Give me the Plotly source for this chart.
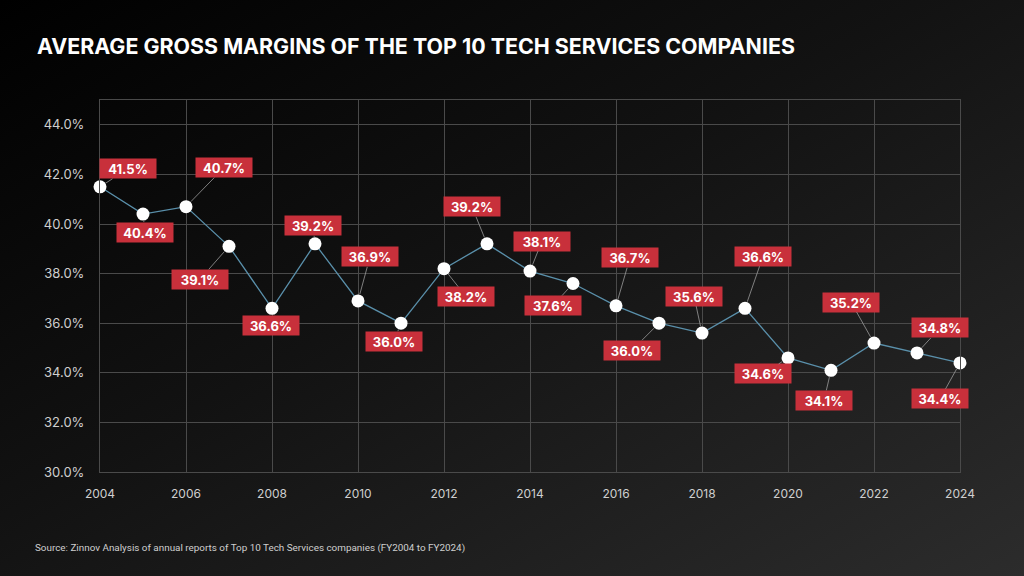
import base64
import plotly.graph_objects as go

years = list(range(2004, 2025))
margins = [41.5, 40.4, 40.7, 39.1, 36.6, 39.2, 36.9, 36.0, 38.2, 39.2, 38.1,
           37.6, 36.7, 36.0, 35.6, 36.6, 34.6, 34.1, 35.2, 34.8, 34.4]
y_ticks = [30, 32, 34, 36, 38, 40, 42, 44]
x_ticks = list(range(2004, 2025, 2))

# label placement offsets in pixels (layout only)
label_offsets = [(28, -18), (2, 18), (38, -39), (-29, 33), (-1, 17), (-2, -18),
                 (12, -44), (-7, 18), (22, 28), (-15, -37), (12, -30), (-20, 22),
                 (14, -48), (-27, 27), (-8, -37), (18, -52), (-25, 16), (-7, 30),
                 (-23, -41), (23, -25), (-20, 36)]

W, H = 1024, 576
L, R, T, B = 100, 64, 100, 104
pw, ph = W - L - R, H - T - B

svg = f'''<svg xmlns="http://www.w3.org/2000/svg" width="{W}" height="{H}">
<defs><linearGradient id="g" x1="0" y1="0" x2="1" y2="1">
<stop offset="0" stop-color="#000000"/><stop offset="0.45" stop-color="#121212"/>
<stop offset="1" stop-color="#2c2c2c"/></linearGradient></defs>
<rect width="{W}" height="{H}" fill="url(#g)"/></svg>'''
bg = "data:image/svg+xml;base64," + base64.b64encode(svg.encode()).decode()

fig = go.Figure()
fig.add_trace(go.Scatter(
    x=years, y=margins, mode="lines+markers",
    line=dict(color="#5a90ab", width=1.3),
    marker=dict(size=13, color="white", line=dict(width=0)),
    cliponaxis=False, hoverinfo="skip", showlegend=False,
))

for yr, v, (ax, ay) in zip(years, margins, label_offsets):
    fig.add_annotation(
        x=yr, y=v, ax=ax, ay=ay, text=f"<b>{v:.1f}%</b>",
        showarrow=True, arrowhead=0, arrowwidth=0.8, arrowcolor="#9a9a9a",
        standoff=7, bgcolor="#c8303b", borderpad=2, width=52, height=15,
        font=dict(family="Inter, Roboto, sans-serif", size=13, color="white"),
    )

grid = "#4a4a4a"
fig.update_layout(
    width=W, height=H,
    margin=dict(l=L, r=R, t=T, b=B),
    paper_bgcolor="#111111", plot_bgcolor="rgba(0,0,0,0)",
    images=[dict(source=bg, xref="paper", yref="paper",
                 x=-L / pw, y=1 + T / ph, sizex=W / pw, sizey=H / ph,
                 xanchor="left", yanchor="top", sizing="stretch", layer="below")],
    title=dict(text="<b>AVERAGE GROSS MARGINS OF THE TOP 10 TECH SERVICES COMPANIES</b>",
               x=37 / W, xanchor="left", y=1 - 47 / H, yanchor="middle",
               font=dict(family="Inter, sans-serif", size=21.4, color="white")),
    xaxis=dict(range=[2004, 2024], tickvals=x_ticks, showgrid=True, gridcolor=grid,
               gridwidth=1, zeroline=False, showline=True, linecolor=grid, mirror=True,
               tickfont=dict(family="Inter, sans-serif", size=12, color="#cfcfcf"),
               ticks="", ticklabelstandoff=11),
    yaxis=dict(range=[30, 45], tickvals=y_ticks, ticktext=[f"{t:.1f}%" for t in y_ticks],
               showgrid=True, gridcolor=grid, gridwidth=1, zeroline=False,
               showline=True, linecolor=grid, mirror=True,
               tickfont=dict(family="Inter, sans-serif", size=13, color="#cfcfcf"),
               ticks="", ticklabelstandoff=12),
    font=dict(family="Inter, sans-serif", color="white"),
)

fig.add_annotation(
    xref="paper", yref="paper", x=-(L - 33) / pw, y=-(548 - (T + ph)) / ph,
    xanchor="left", yanchor="middle", showarrow=False,
    text="Source: Zinnov Analysis of annual reports of Top 10 Tech Services companies (FY2004 to FY2024)",
    font=dict(family="Roboto, sans-serif", size=9.9, color="#cfcfcf"),
)

fig.write_html("out.html")
